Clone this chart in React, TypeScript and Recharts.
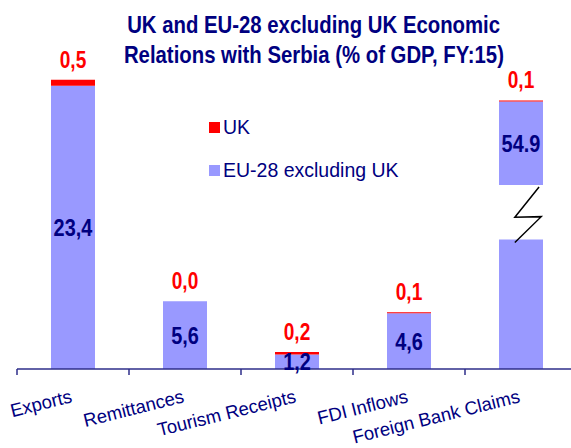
import React from 'react';
import { BarChart, Bar, XAxis, YAxis, LabelList } from 'recharts';

const categories = ['Exports', 'Remittances', 'Tourism Receipts', 'FDI Inflows', 'Foreign Bank Claims'];
// EU-28 excl. UK: part below the axis break (whole value for unbroken bars)
const euLower = [23.4, 5.6, 1.2, 4.6, 10.7];
// the cut on Foreign Bank Claims (54.9 would not fit)
const euBreak = [0, 0, 0, 0, 4.5];
const euUpper = [0, 0, 0, 0, 6.9];
const ukValues = [0.5, 0, 0.2, 0.1, 0.1];
const euLabels = ['23,4', '5,6', '1,2', '4,6', '54.9'];
const ukLabels = ['0,5', '0,0', '0,2', '0,1', '0,1'];
const legendItems = [
  { label: 'UK', color: '#ff0000' },
  { label: 'EU-28 excluding UK', color: '#9999ff' }
];
const titleLines = ['UK and EU-28 excluding UK Economic', 'Relations with Serbia (% of GDP, FY:15)'];

const data = categories.map((name, i) => ({
  name,
  euLower: euLower[i],
  euBreak: euBreak[i],
  euUpper: euUpper[i],
  uk: ukValues[i]
}));

const NAVY = '#000080';
const AXIS = '#2e2e8a';
const EU = '#9999ff';
const UK = '#ff0000';
const SANS = "'Liberation Sans', Arial, sans-serif";
const NARROW_X = 0.83; // Arial Narrow look, squeezed Liberation Sans Bold

const box = (p: any) => {
  const vb = p.viewBox || {};
  return {
    x: p.x ?? vb.x,
    y: p.y ?? vb.y,
    width: p.width ?? vb.width,
    height: p.height ?? vb.height
  };
};

const NarrowText = ({ x, y, fill, size, children }: any) => (
  <text transform={`translate(${x},${y}) scale(${NARROW_X},1)`} textAnchor="middle" fill={fill}
    fontSize={size} fontWeight="bold" fontFamily={SANS}>
    {children}
  </text>
);

// all value labels hang off the bottom segment, which is never empty;
// the px per unit comes from that segment's own height
const ValueLabels = (p: any) => {
  const { x, y, width, height } = box(p);
  const i = categories.indexOf(p.value);
  if (i < 0 || !euLower[i]) return null;
  const k = height / euLower[i];
  const cx = x + width / 2;
  const euMid = euBreak[i] ? y - (euBreak[i] + euUpper[i] / 2) * k : y + height / 2;
  const top = y - (euBreak[i] + euUpper[i] + ukValues[i]) * k;
  return (
    <g>
      <NarrowText x={cx} y={euMid + 8.5} fill={NAVY} size={24}>{euLabels[i]}</NarrowText>
      <NarrowText x={cx} y={top - 12} fill={UK} size={23}>{ukLabels[i]}</NarrowText>
    </g>
  );
};

const BreakShape = (p: any) => {
  const { x, y, width: w, height: h } = p;
  if (!h) return null;
  const pts = [
    [x + 0.91 * w, y + 2],
    [x + 0.36 * w, y + 0.59 * h],
    [x + 0.96 * w, y + 0.58 * h],
    [x + 0.36 * w, y + h + 3]
  ].map((q) => q.join(',')).join(' ');
  return <polyline points={pts} fill="none" stroke="#000" strokeWidth={1.5} />;
};

const CategoryTick = (props: any) => {
  const { x, y, payload } = props;
  const half = payload.offset;
  return (
    <g>
      {half ? <line x1={x - half} y1={y - 6} x2={x - half} y2={y} stroke={AXIS} strokeWidth={1.5} /> : null}
      <text x={x} y={y + 27} transform={`rotate(-14 ${x} ${y + 27})`} textAnchor="end"
        fill={NAVY} fontSize={18.5} fontFamily={SANS}>
        {payload.value}
      </text>
    </g>
  );
};

export default function App() {
  return (
    <div style={{ position: 'absolute', left: 0, top: 0, width: 571, height: 448, overflow: 'hidden', background: '#fff' }}>
      <BarChart width={590} height={448} data={data} margin={{ top: 6, right: 13, bottom: 0, left: 17 }}>
        <XAxis dataKey="name" height={79} tickSize={6} tickMargin={0} tickLine={false}
          axisLine={{ stroke: AXIS, strokeWidth: 1.5 }} tick={<CategoryTick />} interval={0} />
        <YAxis hide domain={[0, 30]} />
        <Bar dataKey="euLower" stackId="a" fill={EU} barSize={44} isAnimationActive={false}>
          <LabelList dataKey="name" content={(p: any) => <ValueLabels {...p} />} />
        </Bar>
        <Bar dataKey="euBreak" stackId="a" fill="none" barSize={44} shape={<BreakShape />} isAnimationActive={false} />
        <Bar dataKey="euUpper" stackId="a" fill={EU} barSize={44} isAnimationActive={false} />
        <Bar dataKey="uk" stackId="a" fill={UK} barSize={44} isAnimationActive={false} />
      </BarChart>

      <div style={{ position: 'absolute', left: 0, top: 10, width: 628, textAlign: 'center', color: NAVY,
        fontFamily: SANS, fontWeight: 'bold', fontSize: 24.5, lineHeight: '30px' }}>
        {titleLines.map((t) => (
          <div key={t}>
            <span style={{ display: 'inline-block', transform: `scaleX(${NARROW_X})`, whiteSpace: 'nowrap' }}>{t}</span>
          </div>
        ))}
      </div>

      <div style={{ position: 'absolute', left: 209, top: 116, fontFamily: SANS, fontSize: 19.5, color: NAVY }}>
        {legendItems.map((item) => (
          <div key={item.label} style={{ display: 'flex', alignItems: 'center', height: 22, marginBottom: 21 }}>
            <span style={{ display: 'inline-block', width: 11, height: 11, background: item.color, marginRight: 3 }} />
            <span>{item.label}</span>
          </div>
        ))}
      </div>
    </div>
  );
}
